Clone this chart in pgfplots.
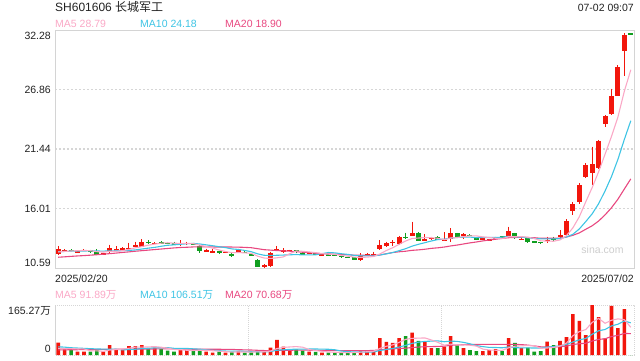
\documentclass[border=0pt]{standalone}
\usepackage{pgfplots}
\pgfplotsset{compat=1.18}
\usepackage{pgfplotstable}
\usepackage{fontspec}
\setmainfont{Liberation Sans}
\newfontfamily\cjk{Noto Sans CJK SC}
\definecolor{kred}{RGB}{242,22,12}
\definecolor{kgreen}{RGB}{17,158,32}
\definecolor{ma5}{RGB}{250,168,198}
\definecolor{ma10}{RGB}{62,196,228}
\definecolor{ma20}{RGB}{232,72,128}
\definecolor{bord}{RGB}{212,212,212}
\definecolor{gridc}{RGB}{214,214,214}
\definecolor{txt}{RGB}{34,34,34}
\definecolor{wm}{RGB}{205,205,205}

% rising candles (red)
\pgfplotstableread{
i o h l c v
0 11.87 12.60 11.78 12.29 40.7
1 12.17 12.32 12.05 12.22 18.8
3 12.03 12.14 12.00 12.10 11.0
4 12.17 12.30 12.10 12.21 11.0
7 11.80 12.00 11.77 11.95 11.0
8 12.02 12.72 12.00 12.41 33.0
9 12.17 12.56 12.12 12.28 18.8
10 12.29 12.50 12.24 12.40 18.8
11 12.35 12.90 12.35 12.42 29.7
12 12.60 12.99 12.58 12.66 29.7
13 12.53 13.20 12.48 12.96 33.0
15 12.84 12.92 12.75 12.88 24.2
19 12.80 13.14 12.60 12.85 16.5
20 12.82 13.00 12.70 12.86 16.5
23 12.11 12.36 12.08 12.19 11.0
24 12.04 12.29 11.98 12.09 7.7
26 11.98 12.10 11.93 12.03 7.7
28 12.08 12.36 12.00 12.20 14.0
32 10.65 10.95 10.59 10.86 13.0
33 10.77 12.08 10.71 11.98 24.2
34 12.23 12.60 12.17 12.29 49.6
35 12.12 12.40 12.00 12.17 27.5
36 12.18 12.26 12.14 12.22 18.8
39 11.96 12.08 11.90 12.00 11.0
41 11.76 11.90 11.70 11.80 7.7
47 11.29 11.93 11.23 11.68 16.5
48 11.76 12.00 11.66 11.80 14.3
49 11.84 12.08 11.78 11.88 14.3
50 12.29 13.14 12.23 12.69 56.2
51 12.62 12.99 12.53 12.84 43.0
52 12.94 13.14 12.60 12.97 39.7
53 12.75 13.51 12.69 13.39 56.2
55 13.53 14.81 13.53 13.81 73.7
57 13.08 13.69 13.02 13.20 43.0
58 13.26 13.44 13.14 13.30 23.1
60 13.12 13.84 13.08 13.16 27.5
61 13.20 14.21 12.93 13.81 62.8
63 13.57 13.75 13.20 13.66 23.1
66 13.14 13.44 13.10 13.30 13.2
67 13.14 13.25 13.10 13.20 16.5
68 13.27 13.44 13.26 13.30 19.8
70 13.53 14.35 13.50 13.96 56.2
72 13.20 13.30 13.16 13.26 23.1
76 13.12 13.44 12.84 13.16 44.0
78 13.39 14.05 13.30 13.60 46.3
79 13.60 15.03 13.53 14.90 59.5
80 15.81 16.61 15.39 16.42 135.5
81 16.61 18.31 16.42 18.18 112.4
82 18.86 20.13 18.79 20.01 66.1
83 19.22 21.65 18.13 20.07 165.27
84 19.71 22.26 19.64 22.14 125.6
85 23.72 24.51 23.47 24.42 55.1
86 24.63 26.93 24.51 26.24 162.0
87 26.30 29.07 26.24 28.89 89.2
88 30.40 31.98 28.06 31.80 152.0
}\kup

% falling candles (green)
\pgfplotstableread{
i o h l c v
2 12.26 12.30 12.10 12.15 18.8
5 12.20 12.27 11.99 12.15 11.0
6 12.08 12.32 11.75 11.80 16.5
14 12.98 13.12 12.80 12.93 22.0
16 12.99 13.02 12.78 12.82 19.8
17 12.88 12.96 12.75 12.84 14.3
18 12.82 13.00 12.65 12.78 11.0
21 12.84 12.90 12.68 12.72 16.5
22 12.60 12.66 11.96 12.16 18.8
25 12.14 12.16 11.90 11.98 11.0
27 11.87 11.92 11.62 11.68 10.0
29 12.08 12.12 11.95 11.98 7.7
30 11.82 11.88 11.68 11.76 8.8
31 11.32 11.40 10.68 10.71 11.0
37 12.20 12.22 11.98 12.05 18.8
38 11.96 12.02 11.75 11.80 14.3
40 11.90 11.95 11.78 11.86 10.0
42 11.82 11.86 11.74 11.79 7.7
43 11.80 11.84 11.64 11.68 7.7
44 11.71 11.74 11.48 11.57 7.7
45 11.59 11.62 11.48 11.53 7.7
46 11.57 11.60 11.28 11.32 7.7
54 13.41 13.81 13.23 13.38 62.8
56 13.81 13.84 13.02 13.05 46.3
59 13.44 13.48 13.10 13.14 23.1
62 13.75 13.80 13.40 13.44 32.0
64 13.58 13.66 13.48 13.55 16.5
65 13.39 13.42 13.10 13.14 13.2
69 13.46 13.50 13.36 13.42 13.2
71 13.75 13.80 13.26 13.30 39.7
73 13.30 13.30 12.84 12.99 24.2
74 13.05 13.07 12.92 12.96 11.0
75 12.99 13.00 12.80 12.84 13.2
77 13.22 13.44 12.96 13.18 33.0
89 31.92 31.92 31.92 31.92 0
}\kdn

\pgfplotstableread{
i m5 m10 m20 v5 v10 v20
0 12.05 12.08 11.57 22 27 17
1 12.10 12.10 11.61 21 26 17
2 12.14 12.12 11.65 21 24 17.5
3 12.17 12.13 11.69 20 23 17.5
4 12.19 12.14 11.72 20.06 22 18
5 12.17 12.15 11.76 14.12 21 18
6 12.08 12.14 11.80 13.66 20 18
7 12.04 12.13 11.85 12.1 19.5 18.5
8 12.10 12.15 11.90 16.5 19 18.5
9 12.12 12.16 11.95 18.06 19.06 19
10 12.17 12.17 12.01 19.62 16.87 19
11 12.29 12.19 12.06 22.26 17.96 19.5
12 12.43 12.24 12.12 26 19.05 19.5
13 12.54 12.32 12.17 26 21.25 20
14 12.67 12.40 12.22 26.64 22.35 20
15 12.77 12.47 12.27 27.72 23.67 20
16 12.85 12.57 12.32 25.74 24 20.5
17 12.89 12.66 12.37 22.66 24.33 20.5
18 12.85 12.70 12.42 18.26 22.13 20.5
19 12.83 12.75 12.46 17.16 21.9 20.48
20 12.83 12.80 12.48 15.62 21.67 19.27
21 12.81 12.83 12.51 14.96 20.35 19.16
22 12.67 12.78 12.51 15.86 19.26 19.16
23 12.56 12.70 12.51 15.86 17.06 19.16
24 12.40 12.62 12.51 14.1 15.63 18.99
25 12.23 12.53 12.50 13 14.31 18.99
26 12.09 12.45 12.51 11.24 13.1 18.55
27 11.99 12.33 12.50 9.48 12.67 18.5
28 12.00 12.28 12.49 10.08 12.97 17.55
29 11.97 12.19 12.47 10.08 12.09 17.0
30 11.93 12.08 12.44 9.64 11.32 16.5
31 11.67 11.88 12.35 10.3 10.77 15.56
32 11.50 11.75 12.26 10.9 10.19 14.73
33 11.46 11.73 12.22 12.94 11.51 14.29
34 11.52 11.75 12.18 21.32 15.7 15.67
35 11.60 11.77 12.15 25.06 17.35 15.83
36 11.90 11.79 12.12 26.62 18.46 15.78
37 12.14 11.82 12.08 27.78 19.34 16.0
38 12.11 11.78 12.03 25.8 19.37 16.17
39 12.05 11.78 11.99 18.08 19.7 15.9
40 11.99 11.79 11.94 14.58 19.82 15.57
41 11.90 11.90 11.89 12.36 19.49 15.13
42 11.85 12.00 11.87 10.14 18.96 14.58
43 11.83 11.97 11.85 8.82 17.31 14.41
44 11.74 11.89 11.82 8.16 13.12 14.41
45 11.67 11.83 11.80 7.7 11.14 14.25
46 11.58 11.74 11.76 7.7 10.03 14.25
47 11.56 11.70 11.76 9.46 9.8 14.57
48 11.58 11.70 11.74 10.78 9.8 14.59
49 11.64 11.69 11.74 12.1 10.13 14.92
50 11.87 11.77 11.78 21.8 14.75 17.29
51 12.18 11.88 11.89 28.86 18.28 18.89
52 12.44 12.00 12.00 33.5 21.48 20.22
53 12.75 12.17 12.07 41.88 26.33 21.82
54 13.05 12.35 12.12 51.58 31.84 22.48
55 13.28 12.58 12.20 55.08 38.44 24.79
56 13.32 12.75 12.24 55.74 42.3 26.17
57 13.37 12.90 12.30 56.4 44.95 27.38
58 13.35 13.05 12.38 49.78 45.83 27.82
59 13.30 13.18 12.43 41.84 46.71 28.42
60 13.17 13.22 12.50 32.6 43.84 29.3
61 13.32 13.32 12.60 35.9 45.82 32.05
62 13.37 13.37 12.68 33.7 45.05 33.27
63 13.44 13.40 12.78 33.7 41.74 34.04
64 13.52 13.41 12.88 32.38 37.11 34.48
65 13.52 13.35 12.96 29.52 31.06 34.75
66 13.42 13.37 13.06 19.6 27.75 35.03
67 13.37 13.37 13.14 16.5 25.1 35.03
68 13.30 13.37 13.21 15.84 24.77 35.3
69 13.27 13.40 13.29 15.18 23.78 35.25
70 13.44 13.48 13.35 23.78 26.65 35.25
71 13.44 13.43 13.37 29.08 24.34 35.08
72 13.45 13.41 13.39 30.4 23.45 34.25
73 13.39 13.34 13.37 31.28 23.56 32.65
74 13.29 13.28 13.35 30.84 23.01 30.06
75 13.07 13.25 13.30 22.24 23.01 27.04
76 13.04 13.24 13.30 23.1 26.09 26.92
77 13.03 13.24 13.30 25.08 27.74 26.42
78 13.15 13.27 13.32 29.5 30.39 27.58
79 13.54 13.42 13.41 39.2 35.02 29.4
80 14.25 13.66 13.57 63.66 42.95 34.8
81 15.26 14.15 13.79 77.34 50.22 37.28
82 16.62 14.82 14.12 83.96 54.52 38.99
83 17.92 15.53 14.44 107.75 68.63 46.09
84 19.36 16.45 14.87 120.97 80.09 51.55
85 20.96 17.61 15.43 104.89 84.28 53.64
86 22.58 18.92 16.08 114.81 96.08 61.08
87 24.35 20.49 16.86 119.43 101.7 64.72
88 26.70 22.31 17.79 116.78 112.27 71.33
89 28.65 24.01 18.71 91.66 106.32 70.67
}\madata

\newcommand{\fs}[1]{\fontsize{#1}{#1}\selectfont}

\pgfplotsset{
  wick/.style={forget plot, draw=none, mark=none,
    error bars/.cd, y dir=minus, y explicit, error mark=none,
    error bar style={draw=#1, line width=1pt, solid}},
  body/.style={forget plot, draw=none, mark=none,
    error bars/.cd, y dir=both, y explicit, error mark=none,
    error bar style={draw=#1, line width=5pt, solid}},
}

\begin{document}
\begin{tikzpicture}[x=1pt,y=1pt]
\path[use as bounding box] (0,0) rectangle (640,360);

% ---------- price panel ----------
\begin{axis}[at={(55pt,92pt)}, anchor=south west, scale only axis,
  width=579pt, height=238pt,
  xmin=-0.5, xmax=89.5, ymin=10.59, ymax=32.28,
  axis line style={draw=bord, line width=1pt},
  xtick=\empty, ytick={16.01,21.44,26.86}, yticklabels={},
  major tick length=0pt,
  ymajorgrids=true,
  major grid style={draw=gridc, dash pattern=on 2pt off 2pt, line width=1.2pt},
  clip=true]
\addplot[wick=kred] table[x=i, y=h, y error minus expr=\thisrow{h}-\thisrow{l}] {\kup};
\addplot[wick=kgreen] table[x=i, y=h, y error minus expr=\thisrow{h}-\thisrow{l}] {\kdn};
\addplot[body=kred] table[x=i, y expr={(\thisrow{o}+\thisrow{c})/2},
        y error expr={max(abs(\thisrow{c}-\thisrow{o})/2,0.045)}] {\kup};
\addplot[body=kgreen] table[x=i, y expr={(\thisrow{o}+\thisrow{c})/2},
        y error expr={max(abs(\thisrow{c}-\thisrow{o})/2,0.045)}] {\kdn};
\addplot[ma20, line width=1.1pt, mark=none] table[x=i, y=m20] {\madata};
\addplot[ma10, line width=1.1pt, mark=none] table[x=i, y=m10] {\madata};
\addplot[ma5, line width=1.1pt, mark=none] table[x=i, y=m5] {\madata};
\end{axis}

% ---------- volume panel ----------
\begin{axis}[at={(55pt,5pt)}, anchor=south west, scale only axis,
  width=579pt, height=50pt,
  xmin=-0.5, xmax=89.5, ymin=0, ymax=165.27,
  axis line style={draw=none},
  xtick={29.5,59.5}, xticklabels={}, ytick=\empty,
  major tick length=0pt,
  xmajorgrids=true,
  major grid style={draw=gridc, dash pattern=on 1pt off 1pt, line width=1pt},
  clip=false]
\draw[gridc, line width=1pt, dash pattern=on 1pt off 1pt]
  (rel axis cs:0,1) -- (rel axis cs:1,1) -- (rel axis cs:1,0) -- (rel axis cs:0,0);
\draw[bord, line width=1pt] (rel axis cs:0,0) -- (rel axis cs:0,1);
\addplot[ybar, bar width=3.6pt, bar shift=0pt, fill=kred, draw=none] table[x=i, y=v] {\kup};
\addplot[ybar, bar width=3.6pt, bar shift=0pt, fill=kgreen, draw=none] table[x=i, y=v] {\kdn};
\addplot[ma20, line width=1.1pt, mark=none] table[x=i, y=v20] {\madata};
\addplot[ma10, line width=1.1pt, mark=none] table[x=i, y=v10] {\madata};
\addplot[ma5, line width=1.1pt, mark=none] table[x=i, y=v5] {\madata};
\end{axis}

% ---------- texts ----------
\node[anchor=base west, inner sep=0pt, text=txt] at (55,348.3) {\fs{12}SH601606 {\cjk 长城军工}};
\node[anchor=base east, inner sep=0pt, text=txt] at (634,348.3) {\fs{10.5}07-02 09:07};
\node[anchor=base west, inner sep=0pt, text=ma5]  at (55,332.7)  {\fs{10.5}MA5 28.79};
\node[anchor=base west, inner sep=0pt, text=ma10] at (140,332.7) {\fs{10.5}MA10 24.18};
\node[anchor=base west, inner sep=0pt, text=ma20] at (225,332.7) {\fs{10.5}MA20 18.90};

\node[anchor=east, inner sep=0pt, text=txt] at (51,324.5) {\fs{10.5}32.28};
\node[anchor=east, inner sep=0pt, text=txt] at (51,270.5) {\fs{10.5}26.86};
\node[anchor=east, inner sep=0pt, text=txt] at (51,211) {\fs{10.5}21.44};
\node[anchor=east, inner sep=0pt, text=txt] at (51,151.5) {\fs{10.5}16.01};
\node[anchor=east, inner sep=0pt, text=txt] at (51,97) {\fs{10.5}10.59};

\node[anchor=west, inner sep=0pt, text=txt] at (55,81.7) {\fs{10.5}2025/02/20};
\node[anchor=east, inner sep=0pt, text=txt] at (634,81.7) {\fs{10.5}2025/07/02};
\node[inner sep=0pt, text=wm] at (602.5,110.5) {\fs{10.5}sina.com};

\node[anchor=base west, inner sep=0pt, text=ma5]  at (55,61.5)  {\fs{10.5}MA5 91.89{\cjk 万}};
\node[anchor=base west, inner sep=0pt, text=ma10] at (140,61.5) {\fs{10.5}MA10 106.51{\cjk 万}};
\node[anchor=base west, inner sep=0pt, text=ma20] at (225,61.5) {\fs{10.5}MA20 70.68{\cjk 万}};
\node[anchor=east, inner sep=0pt, text=txt] at (51,49) {\fs{10.5}165.27{\cjk 万}};
\node[anchor=east, inner sep=0pt, text=txt] at (51,11.5) {\fs{10.5}0};
\end{tikzpicture}
\end{document}
